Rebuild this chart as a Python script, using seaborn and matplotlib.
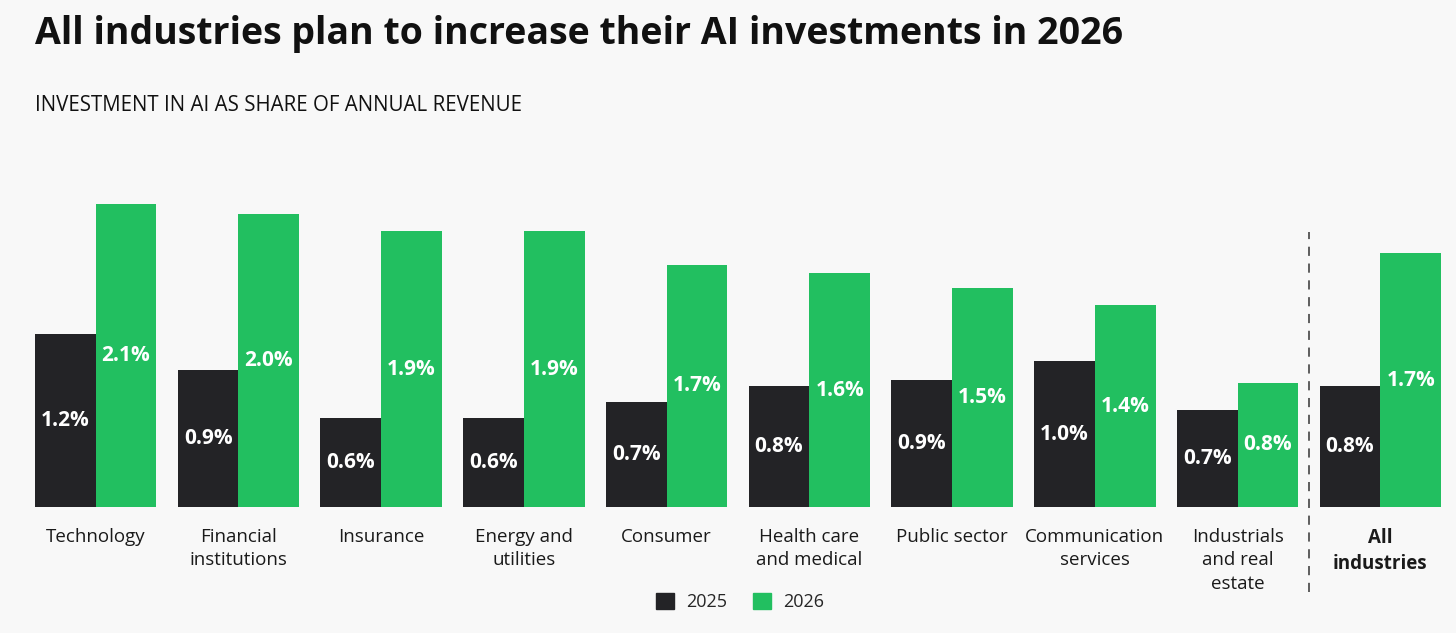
import pandas as pd
import seaborn as sns
import matplotlib.pyplot as plt

# Werte (Anteil am Jahresumsatz, %)
industries = ["Technology", "Financial\ninstitutions", "Insurance", "Energy and\nutilities",
              "Consumer", "Health care\nand medical", "Public sector", "Communication\nservices",
              "Industrials\nand real\nestate", "All\nindustries"]
values_2025 = [1.20, 0.95, 0.62, 0.62, 0.73, 0.84, 0.88, 1.01, 0.67, 0.84]
values_2026 = [2.10, 2.03, 1.91, 1.91, 1.68, 1.62, 1.52, 1.40, 0.86, 1.76]
labels_2025 = ["1.2%", "0.9%", "0.6%", "0.6%", "0.7%", "0.8%", "0.9%", "1.0%", "0.7%", "0.8%"]
labels_2026 = ["2.1%", "2.0%", "1.9%", "1.9%", "1.7%", "1.6%", "1.5%", "1.4%", "0.8%", "1.7%"]
years = ["2025", "2026"]

bg = "#f8f8f8"
dark = "#232326"
green = "#22bf60"

df = pd.DataFrame({
    "industry": industries * 2,
    "year": [years[0]] * len(industries) + [years[1]] * len(industries),
    "value": values_2025 + values_2026,
})

sns.set_theme(style="white")
plt.rcParams["font.family"] = ["Open Sans", "DejaVu Sans"]

fig = plt.figure(figsize=(14.56, 6.33), dpi=100, facecolor=bg)
ax = fig.add_axes([35 / 1456, 1 - 507 / 633, (1441 - 35) / 1456, 303 / 633])
ax.set_facecolor(bg)

sns.barplot(data=df, x="industry", y="value", hue="year", order=industries,
            palette={"2025": dark, "2026": green}, width=0.85, gap=0,
            linewidth=0, saturation=1, legend=False, ax=ax)

for cont, labs in zip(ax.containers, [labels_2025, labels_2026]):
    ax.bar_label(cont, labels=labs, label_type="center", color="white",
                 fontsize=15, fontweight="bold")

ax.set_xlim(-0.425, len(industries) - 1 + 0.425)
ax.set_ylim(0, max(values_2026))
ax.set_xlabel("")
ax.set_ylabel("")
ax.set_yticks([])
sns.despine(ax=ax, left=True, bottom=True)
ax.tick_params(axis="x", length=0, pad=15, labelsize=13.5, labelcolor="#1a1a1a")
for lab in ax.get_xticklabels():
    lab.set_linespacing(1.4)
    lab.set_verticalalignment("top")
ax.get_xticklabels()[-1].set_fontweight("bold")

# gestrichelte Trennlinie vor "All industries"
ax.axvline(len(industries) - 1.5, ymin=-0.28, ymax=0.908, color="#333333",
           linestyle=(0, (6, 5)), linewidth=1.1, clip_on=False)

fig.text(35 / 1456, 1 - 15 / 633, "All industries plan to increase their AI investments in 2026",
         fontsize=27, fontweight="bold", color="#111111", va="top", ha="left")
fig.text(35 / 1456, 1 - 95 / 633, "INVESTMENT IN AI AS SHARE OF ANNUAL REVENUE",
         fontsize=14.8, color="#111111", va="top", ha="left")

handles = [plt.Rectangle((0, 0), 1, 1, color=dark), plt.Rectangle((0, 0), 1, 1, color=green)]
fig.legend(handles, years, loc="center", bbox_to_anchor=(740 / 1456, 1 - 602 / 633), ncol=2,
           frameon=False, fontsize=13, handlelength=1.0, handleheight=1.0,
           handletextpad=0.7, columnspacing=1.4)

fig.savefig("out.png", dpi=100, facecolor=bg)
